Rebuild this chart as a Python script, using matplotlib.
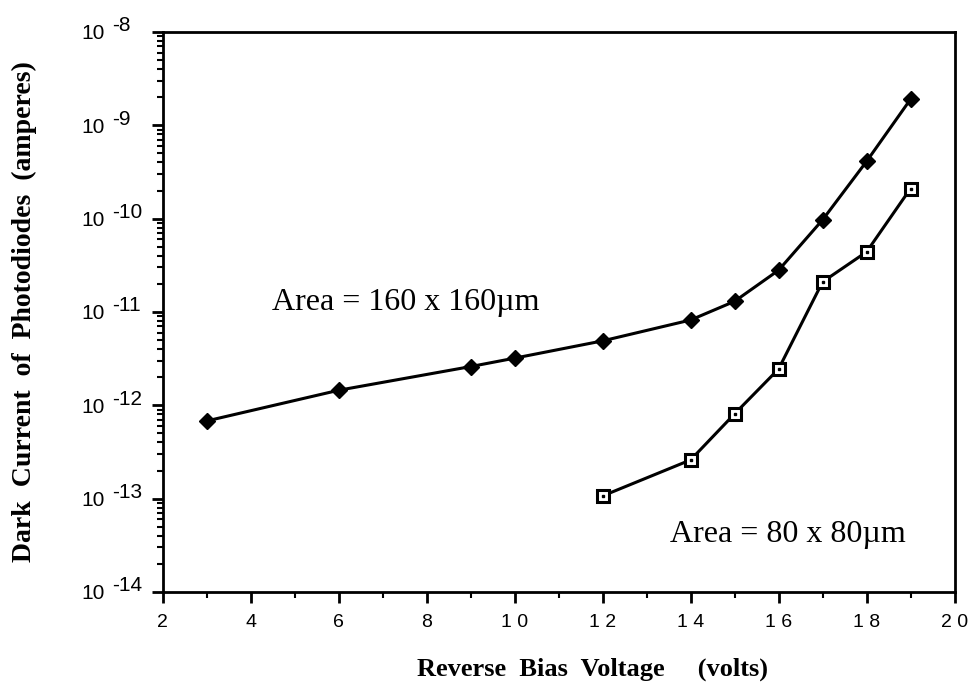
import matplotlib
matplotlib.use("Agg")
import matplotlib.pyplot as plt
from matplotlib.ticker import FixedLocator, FixedFormatter, LogLocator, NullFormatter

# Data
v_large = [3, 6, 9, 10, 12, 14, 15, 16, 17, 18, 19]
i_large = [6.8e-13, 1.45e-12, 2.6e-12, 3.2e-12, 4.9e-12, 8.2e-12, 1.3e-11, 2.8e-11, 9.7e-11, 4.1e-10, 1.9e-9]
v_small = [12, 14, 15, 16, 17, 18, 19]
i_small = [1.07e-13, 2.6e-13, 8.1e-13, 2.45e-12, 2.1e-11, 4.4e-11, 2.1e-10]

x_ticks = [2, 4, 6, 8, 10, 12, 14, 16, 18, 20]
x_ticklabels = ["2", "4", "6", "8", "1 0", "1 2", "1 4", "1 6", "1 8", "2 0"]
y_ticks = [1e-14, 1e-13, 1e-12, 1e-11, 1e-10, 1e-9, 1e-8]
y_base = ["10"] * 7
y_exponents = ["-14", "-13", "-12", "-11", "-10", "-9", "-8"]

label_large = "Area = 160 x 160\u00b5m"
label_small = "Area = 80 x 80\u00b5m"

fig = plt.figure(figsize=(9.75, 6.94), dpi=100)
ax = fig.add_axes([0.167, 0.147, 0.812, 0.807])

ax.plot(v_large, i_large, color='black', lw=2.2, marker='D', markersize=8.5,
        markerfacecolor='black', markeredgecolor='black')
ax.plot(v_small, i_small, color='black', lw=2.2, marker='s', markersize=8,
        markerfacecolor='white', markeredgecolor='black', markeredgewidth=2.2)
ax.plot(v_small, i_small, linestyle='none', marker='s', markersize=2,
        markerfacecolor='black', markeredgecolor='black')

ax.set_yscale('log')
ax.set_xlim(2, 20)
ax.set_ylim(1e-14, 1e-8)

ax.xaxis.set_major_locator(FixedLocator(x_ticks))
ax.xaxis.set_major_formatter(FixedFormatter(x_ticklabels))
ax.xaxis.set_minor_locator(FixedLocator([3, 5, 7, 9, 11, 13, 15, 17, 19]))
ax.yaxis.set_major_locator(FixedLocator(y_ticks))
ax.yaxis.set_major_formatter(FixedFormatter(y_base))
ax.yaxis.set_minor_locator(LogLocator(base=10, subs=range(2, 10), numticks=20))
ax.yaxis.set_minor_formatter(NullFormatter())

for sp in ax.spines.values():
    sp.set_linewidth(2.0)

ax.tick_params(axis='both', which='major', direction='out', length=8, width=2,
               labelsize=14)
ax.tick_params(axis='both', which='minor', direction='out', length=4, width=1.5)
ax.tick_params(axis='y', which='major', labelsize=15, pad=34)
ax.tick_params(axis='x', pad=8)
for lab in ax.get_xticklabels() + ax.get_yticklabels():
    lab.set_fontfamily('Liberation Sans')

# exponents of the y tick labels
for yv, ex in zip(y_ticks, y_exponents):
    ax.annotate(ex, xy=(0, yv), xycoords=('axes fraction', 'data'),
                xytext=(-36.5, 0.5), textcoords='offset points',
                ha='left', va='baseline', fontsize=15, family='Liberation Sans',
                annotation_clip=False)

ax.text(4.48, 1.25e-11, label_large, fontsize=23, family='Liberation Serif',
        ha='left', va='center')
ax.text(13.52, 4.1e-14, label_small, fontsize=23, family='Liberation Serif',
        ha='left', va='center')

ax.set_xlabel("Reverse  Bias  Voltage     (volts)", fontsize=19, fontweight='bold',
              family='Liberation Serif', labelpad=19)
ax.xaxis.label.set_x(0.543)
ax.set_ylabel("Dark  Current  of  Photodiodes  (amperes)", fontsize=20,
              fontweight='bold', family='Liberation Serif', labelpad=32)

fig.savefig("out.png", dpi=100)
